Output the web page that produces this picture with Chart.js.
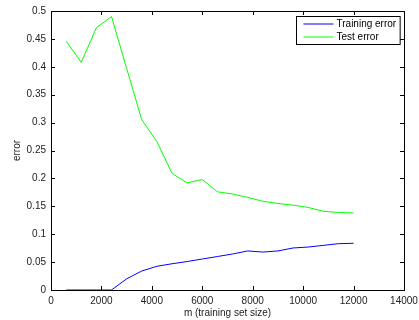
<!DOCTYPE html>
<html lang="en">
<head>
  <meta charset="UTF-8" />
  <title>Learning curve</title>
  <style>
    body {
      margin: 0;
      background: #ffffff;
    }
    .chart-box {
      width: 419px;
      height: 320px;
    }
  </style>
</head>
<body>
  <div class="chart-box">
    <canvas id="curveChart" width="419" height="320"></canvas>
  </div>

  <script src="https://cdn.jsdelivr.net/npm/chart.js"></script>
  <script>
    // training set sizes (m)
    const sizes = [600, 1200, 1800, 2400, 3000, 3600, 4200, 4800, 5400, 6000,
                   6600, 7200, 7800, 8400, 9000, 9600, 10200, 10800, 11400, 12000];
    const trainError = [0, 0, 0, 0, 0.020, 0.034, 0.0425, 0.047, 0.051, 0.0555,
                        0.060, 0.0645, 0.070, 0.068, 0.070, 0.0753, 0.077, 0.080, 0.083, 0.0837];
    const testError = [0.446, 0.408, 0.470, 0.490, 0.397, 0.305, 0.266, 0.209, 0.192, 0.198,
                       0.176, 0.172, 0.166, 0.159, 0.155, 0.152, 0.148, 0.141, 0.139, 0.138];
    const xTicks = [0, 2000, 4000, 6000, 8000, 10000, 12000, 14000];
    const yTicks = [0, 0.05, 0.1, 0.15, 0.2, 0.25, 0.3, 0.35, 0.4, 0.45, 0.5];

    const font = { family: 'Liberation Sans, Arial, sans-serif', size: 10 };

    function toPoints(vals) {
      return sizes.map((m, i) => ({ x: m, y: vals[i] }));
    }

    // matlab style box: frame + inward ticks on all sides
    const framePlugin = {
      id: 'frame',
      afterDraw(chart) {
        const { ctx, chartArea: a, scales } = chart;
        ctx.save();
        ctx.strokeStyle = '#000';
        ctx.lineWidth = 1;
        ctx.strokeRect(Math.round(a.left) + 0.5, Math.round(a.top) + 0.5,
                       Math.round(a.right - a.left), Math.round(a.bottom - a.top));
        const len = 4;
        ctx.beginPath();
        xTicks.forEach(v => {
          const px = Math.round(scales.x.getPixelForValue(v)) + 0.5;
          ctx.moveTo(px, a.bottom); ctx.lineTo(px, a.bottom - len);
          ctx.moveTo(px, a.top); ctx.lineTo(px, a.top + len);
        });
        yTicks.forEach(v => {
          const py = Math.round(scales.y.getPixelForValue(v)) + 0.5;
          ctx.moveTo(a.left, py); ctx.lineTo(a.left + len, py);
          ctx.moveTo(a.right, py); ctx.lineTo(a.right - len, py);
        });
        ctx.stroke();

        // legend box in upper right
        ctx.font = font.size + 'px ' + font.family;
        const labels = chart.data.datasets.map(d => d.label);
        const textW = Math.max(...labels.map(t => ctx.measureText(t).width));
        const lineLen = 30, rowH = 13;
        const w = 7 + lineLen + 3 + textW + 4;
        const h = rowH * labels.length + 2;
        const bx = Math.round(a.right - 4 - w) + 0.5;
        const by = Math.round(a.top + 5) + 0.5;
        ctx.fillStyle = '#fff';
        ctx.fillRect(bx, by, w, h);
        ctx.strokeStyle = '#000';
        ctx.strokeRect(bx, by, w, h);
        ctx.textBaseline = 'middle';
        chart.data.datasets.forEach((d, i) => {
          const cy = by + 1 + rowH * i + rowH / 2;
          ctx.strokeStyle = d.borderColor;
          ctx.beginPath();
          ctx.moveTo(bx + 7, cy); ctx.lineTo(bx + 7 + lineLen, cy);
          ctx.stroke();
          ctx.fillStyle = '#000';
          ctx.fillText(d.label, bx + 7 + lineLen + 3, cy);
        });
        ctx.restore();
      }
    };

    new Chart(document.getElementById('curveChart'), {
      type: 'line',
      data: {
        datasets: [
          {
            label: 'Training error',
            data: toPoints(trainError),
            borderColor: '#0000ff',
            borderWidth: 1,
            pointRadius: 0,
            tension: 0
          },
          {
            label: 'Test error',
            data: toPoints(testError),
            borderColor: '#00ff00',
            borderWidth: 1,
            pointRadius: 0,
            tension: 0
          }
        ]
      },
      options: {
        responsive: false,
        animation: false,
        layout: { padding: { top: 11, right: 15, left: 0, bottom: 0 } },
        plugins: {
          legend: { display: false },
          tooltip: { enabled: false }
        },
        scales: {
          x: {
            type: 'linear',
            min: 0,
            max: 14000,
            afterBuildTicks: s => { s.ticks = xTicks.map(v => ({ value: v })); },
            afterFit: s => { s.height = 30; s.paddingLeft = 0; s.paddingRight = 0; },
            grid: { display: false, drawTicks: false },
            border: { display: false },
            ticks: {
              font: font,
              color: '#222',
              padding: 5,
              maxRotation: 0,
              callback: v => String(v)
            },
            title: {
              display: true,
              text: 'm (training set size)',
              font: font,
              color: '#222',
              padding: { top: 0, bottom: 1 }
            }
          },
          y: {
            min: 0,
            max: 0.5,
            afterBuildTicks: s => { s.ticks = yTicks.map(v => ({ value: v })); },
            afterFit: s => { s.width = 51; s.paddingTop = 0; s.paddingBottom = 0; },
            grid: { display: false, drawTicks: false },
            border: { display: false },
            ticks: {
              font: font,
              color: '#222',
              padding: 5,
              callback: v => String(parseFloat(v.toFixed(2)))
            },
            title: {
              display: true,
              text: 'error',
              font: font,
              color: '#222',
              padding: { top: 11, bottom: 0 }
            }
          }
        }
      },
      plugins: [framePlugin]
    });
  </script>
</body>
</html>
